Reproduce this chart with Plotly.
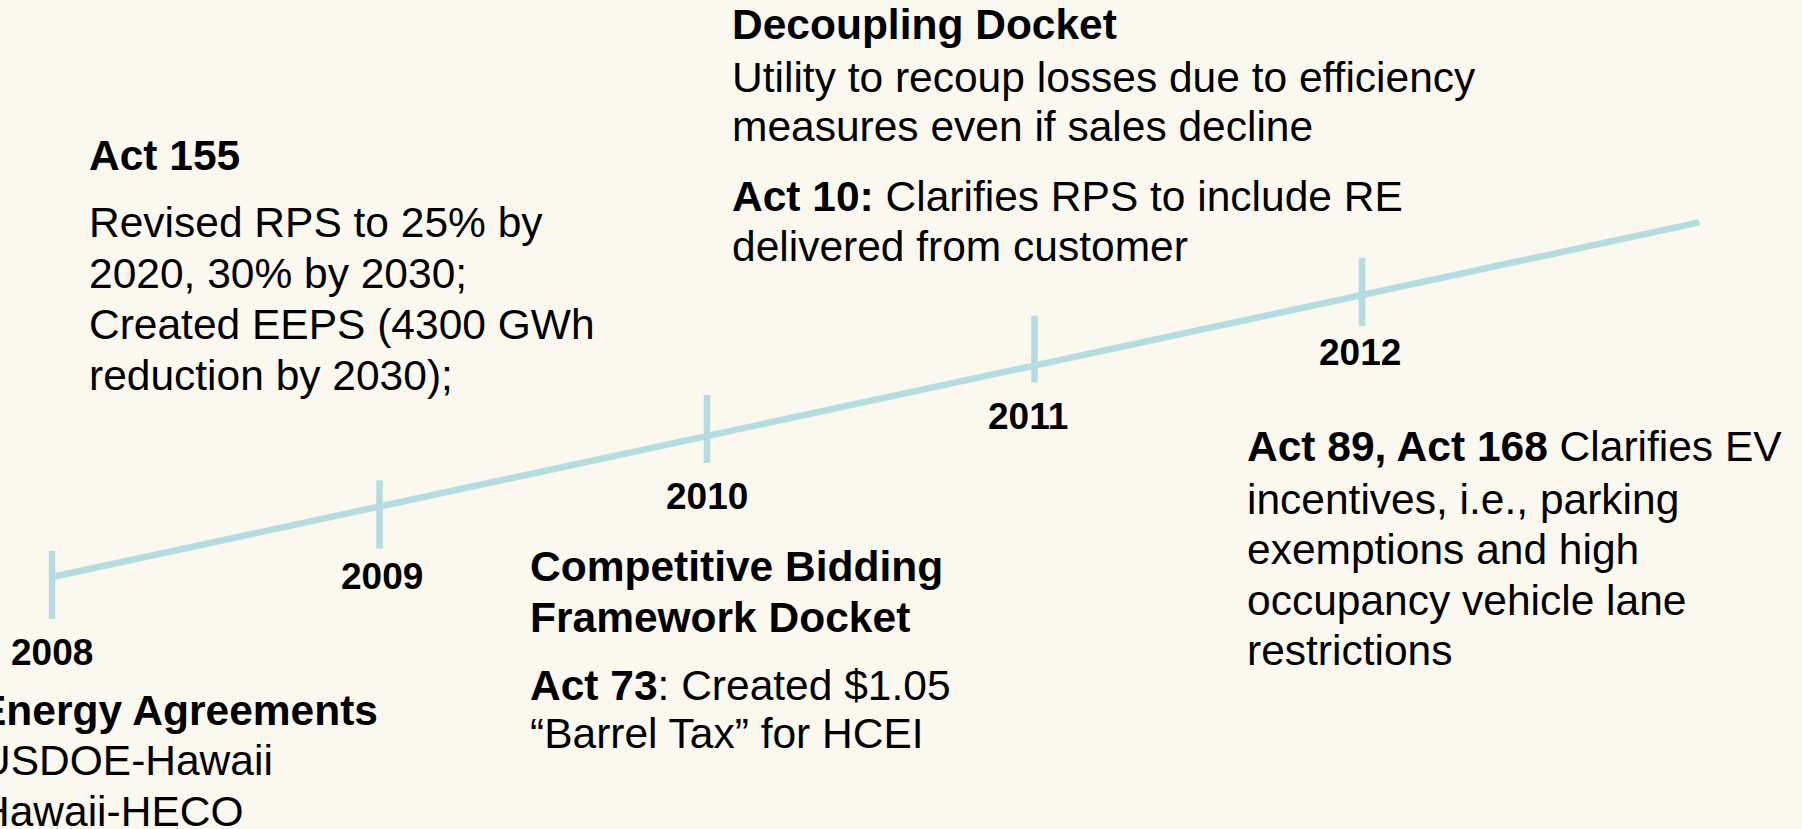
import plotly.graph_objects as go

# ---------------- data ----------------
years = [2008, 2009, 2010, 2011, 2012]
year_labels = ["2008", "2009", "2010", "2011", "2012"]
line_years = [2008, 2013.03]          # timeline arrow start / end (in years)
line_level = [0, 5.03]               # rising timeline level

act155_lines = [
    "<b>Act 155</b>",
    "Revised RPS to 25% by",
    "2020, 30% by 2030;",
    "Created EEPS (4300 GWh",
    "reduction by 2030);",
]
decoupling_lines = [
    "<b>Decoupling Docket</b>",
    "Utility to recoup losses due to efficiency",
    "measures even if sales decline",
    "<b>Act 10:</b> Clarifies RPS to include RE",
    "delivered from customer",
]
bidding_lines = [
    "<b>Competitive Bidding</b>",
    "<b>Framework Docket</b>",
    "<b>Act 73</b>: Created $1.05",
    "\u201cBarrel Tax\u201d for HCEI",
]
ev_lines = [
    "<b>Act 89, Act 168</b> Clarifies EV",
    "incentives, i.e., parking",
    "exemptions and high",
    "occupancy vehicle lane",
    "restrictions",
]
energy_lines = [
    "<b>Energy Agreements</b>",
    "USDOE-Hawaii",
    "Hawaii-HECO",
]

# ---------------- layout constants ----------------
W, H = 1802, 829
X0_PX, YEAR_PX = 52, 327.5       # pixel of 2008, pixels per year
Y0_PX, LEVEL_PX = 577, 70.5      # pixel of level 0, pixels per level unit
LINE_COLOR = "#b5dce1"
BG = "#fbf8f0"
FONT = "Liberation Sans, Arial, sans-serif"
BODY = 42.5
YEAR_FS = 37

# tick extents above / below the line in pixels
tick_up = [26, 26, 41, 50, 37]
tick_down = [42, 42, 27, 17, 31]

def lvl(py):
    return (Y0_PX - py) / LEVEL_PX

fig = go.Figure()

fig.add_trace(go.Scatter(
    x=line_years, y=line_level, mode="lines",
    line=dict(color=LINE_COLOR, width=6.5), hoverinfo="skip", showlegend=False))

for yr, up, dn in zip(years, tick_up, tick_down):
    base = yr - 2008
    fig.add_trace(go.Scatter(
        x=[yr, yr], y=[base + up / LEVEL_PX, base - dn / LEVEL_PX], mode="lines",
        line=dict(color=LINE_COLOR, width=6.5), hoverinfo="skip", showlegend=False))

annotations = []

def px_text(text, x, y, size=BODY, anchor="left"):
    annotations.append(dict(
        text=text, x=x / W, y=1 - y / H, xref="paper", yref="paper",
        xanchor=anchor, yanchor="middle", showarrow=False,
        font=dict(family=FONT, size=size, color="#000000")))

# year labels
year_label_pos = [(52, 652), (382, 576), (707, 496), (1028, 416), (1360, 352)]
for lab, (x, y) in zip(year_labels, year_label_pos):
    px_text("<b>%s</b>" % lab, x, y, size=YEAR_FS, anchor="center")

for t, y in zip(act155_lines, [156, 222, 273.5, 325, 376]):
    px_text(t, 87, y)
for t, y in zip(decoupling_lines, [25, 77, 126, 196.5, 246]):
    px_text(t, 730, y)
for t, y in zip(bidding_lines, [566, 617, 685, 733]):
    px_text(t, 528, y)
for t, y in zip(ev_lines, [446, 499, 549, 600, 650]):
    px_text(t, 1245, y)
for t, (x, y) in zip(energy_lines, [(380, 710), (275, 760), (245, 811)]):
    px_text(t, x, y, anchor="right")

fig.update_layout(
    width=W, height=H, margin=dict(l=0, r=0, t=0, b=0),
    paper_bgcolor=BG, plot_bgcolor=BG,
    xaxis=dict(range=[2008 - X0_PX / YEAR_PX, 2008 + (W - X0_PX) / YEAR_PX],
               visible=False, fixedrange=True),
    yaxis=dict(range=[lvl(H), lvl(0)], visible=False, fixedrange=True),
    annotations=annotations,
    showlegend=False,
)

fig.write_html(
    "out.html",
    config={"displayModeBar": False},
    post_script="document.body.style.margin='0';document.body.style.padding='0';"
                "document.body.style.overflow='hidden';"
                "document.body.style.background='%s';" % BG,
)
